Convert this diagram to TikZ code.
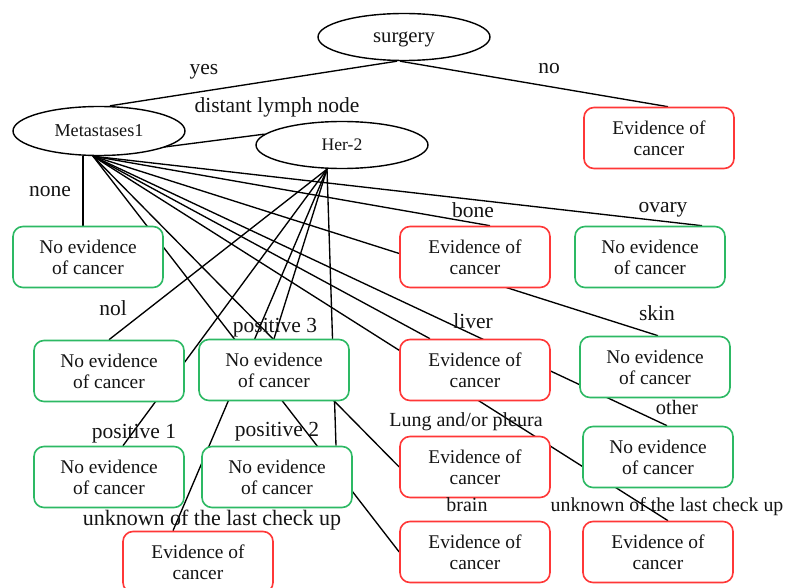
\documentclass[tikz,border=0pt]{standalone}
\usepackage{fontspec}
\setmainfont{Liberation Serif}
\usetikzlibrary{shapes.geometric}
\pgfdeclarelayer{paper}
\pgfdeclarelayer{links}
\pgfsetlayers{paper,links,main}
\definecolor{evred}{RGB}{255,55,55}
\definecolor{noevgreen}{RGB}{45,185,100}
\definecolor{txt}{RGB}{20,20,20}

\begin{document}
\begin{tikzpicture}[x=1pt,y=-1pt,
  every node/.style={text=txt},
  decision/.style={ellipse, draw=black, line width=1.4pt, fill=white,
    minimum width=172pt, minimum height=48pt, inner sep=0pt},
  outcome/.style={rectangle, rounded corners=10pt, line width=1.6pt, fill=white,
    minimum width=150pt, minimum height=61pt, align=center, inner sep=0pt,
    font=\fontsize{19.4}{21}\selectfont,
    execute at begin node={\rule{0pt}{17.5pt}}},
  evbox/.style={outcome, draw=evred},
  noevbox/.style={outcome, draw=noevgreen},
  lab/.style={inner sep=0pt, anchor=base, font=\fontsize{21.5}{24}\selectfont},
  link/.style={line width=1.35pt, draw=black}
]
\begin{pgfonlayer}{paper}
\fill[white] (0,0) rectangle (787,588);
\end{pgfonlayer}
\useasboundingbox (0,0) rectangle (787,588);

% decision nodes
\node[decision, minimum height=47pt, text depth=0pt, font=\fontsize{20.7}{24}\selectfont] (sur) at (404,37) {surgery};
\node[decision, minimum height=49pt, font=\fontsize{18.2}{22}\selectfont] (met) at (99,131) {Metastases1};
\node[decision, minimum height=47pt, font=\fontsize{17.6}{21}\selectfont] (her) at (342,145) {Her-2};

% outcomes
\node[evbox]   (evNo)   at (659,138) {Evidence of\\cancer};
\node[noevbox] (nNone)  at (88,257)  {No evidence\\of cancer};
\node[evbox]   (eBone)  at (475,257) {Evidence of\\cancer};
\node[noevbox] (nOvary) at (650,257) {No evidence\\of cancer};
\node[noevbox] (nSkin)  at (655,367) {No evidence\\of cancer};
\node[evbox]   (eLiver) at (475,370) {Evidence of\\cancer};
\node[noevbox] (nOther) at (658,457) {No evidence\\of cancer};
\node[evbox]   (eLung)  at (475,467) {Evidence of\\cancer};
\node[evbox]   (eBrain) at (475,552) {Evidence of\\cancer};
\node[evbox]   (eUnkM)  at (658,552) {Evidence of\\cancer};
\node[noevbox] (nNol)   at (109,371) {No evidence\\of cancer};
\node[noevbox] (nPos3)  at (274,370) {No evidence\\of cancer};
\node[noevbox] (nPos1)  at (109,477) {No evidence\\of cancer};
\node[noevbox] (nPos2)  at (277,477) {No evidence\\of cancer};
\node[evbox]   (eUnkH)  at (198,562) {Evidence of\\cancer};

% branch labels (placed by baseline)
\node[lab] (lYes)  at (204,75)    {yes};
\node[lab] (lNo)   at (549,74)    {no};
\node[lab] (lDist) at (277,113)   {distant lymph node};
\node[lab] (lNone) at (50,196.5)  {none};
\node[lab] (lBone) at (473,217.5) {bone};
\node[lab] (lOva)  at (663,212.5) {ovary};
\node[lab] (lSkin) at (657,320.5) {skin};
\node[lab] (lLiv)  at (473,328)   {liver};
\node[lab] (lNol)  at (113,315.5) {nol};
\node[lab] (lP3)   at (275,332.5) {positive 3};
\node[lab] (lP1)   at (134,438)   {positive 1};
\node[lab] (lP2)   at (277,436)   {positive 2};
\node[lab, font=\fontsize{22}{24}\selectfont] (lUnkH) at (212,525) {unknown of the last check up};
\node[lab, font=\fontsize{20}{24}\selectfont] (lLung) at (466,426.5) {Lung and/or pleura};
\node[lab, font=\fontsize{20.5}{24}\selectfont] (lOth) at (677,414) {other};
\node[lab, font=\fontsize{20}{24}\selectfont] (lBrain) at (467,511.5) {brain};
\node[lab, font=\fontsize{19.8}{24}\selectfont] (lUnkM) at (667,511.5) {unknown of the last check up};

% connectors, drawn beneath the boxes
\begin{pgfonlayer}{links}
\coordinate (mo) at ([xshift=-6pt]met.south);
\coordinate (ho) at ([xshift=-15pt]her.south);
\draw[link] ([xshift=-7pt]sur.south) -- ([xshift=11pt]met.north);
\draw[link] ([xshift=-4pt]sur.south) -- ([xshift=9pt]evNo.north);
\draw[link] (mo) -- (her.172);
% metastasis sites
\draw[link] ([xshift=-16pt]met.south) -- ([xshift=-5pt]nNone.north);
\draw[link] (mo) -- ([xshift=52pt]nOvary.north);
\draw[link] (mo) -- ([xshift=15pt]eBone.north);
\draw[link] (mo) -- ([xshift=3pt]nSkin.north);
\draw[link] (mo) -- ([xshift=-45pt]eLiver.north);
\draw[link] (mo) -- ([xshift=9pt]nOther.north);
\draw[link] (mo) -- ([xshift=10pt]eUnkM.north);
\draw[link] (mo) -- (eLung.west);
\draw[link] (mo) -- (eBrain.west);
% Her-2 status
\draw[link] (ho) -- (nNol.north);
\draw[link] (ho) -- ([xshift=14pt]nPos1.north);
\draw[link] (ho) -- (nPos3.north);
\draw[link] (ho) -- ([xshift=59pt]nPos2.north);
\draw[link] (ho) -- ([xshift=-25pt]eUnkH.north);
\end{pgfonlayer}
\end{tikzpicture}
\end{document}
